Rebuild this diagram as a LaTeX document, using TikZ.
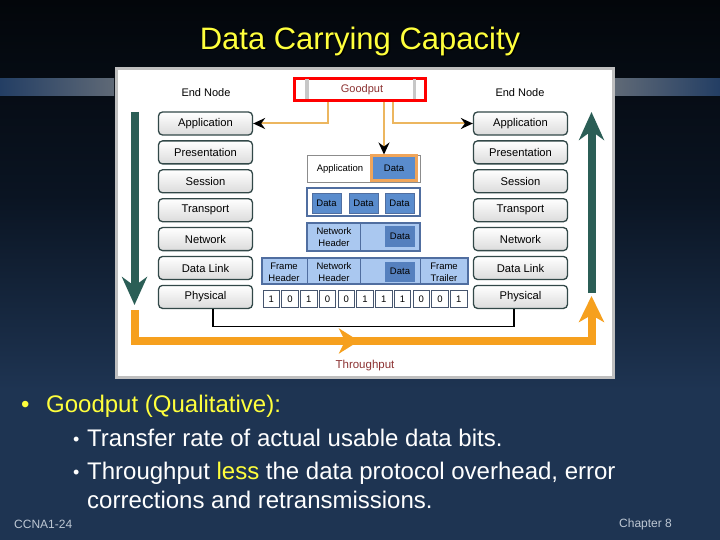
\documentclass[tikz,border=0pt]{standalone}
\usepackage{fontspec}
\setmainfont{Liberation Sans}
\usetikzlibrary{arrows.meta,calc}
\definecolor{ttl}{RGB}{255,255,60}
\definecolor{navy}{RGB}{30,52,82}
\definecolor{bgtop}{RGB}{3,6,10}
\definecolor{bgmid}{RGB}{10,20,34}
\definecolor{barblue}{RGB}{35,62,100}
\definecolor{bargrey}{RGB}{95,105,118}
\definecolor{tealc}{RGB}{43,94,86}
\definecolor{orng}{RGB}{246,160,30}
\definecolor{gline}{RGB}{236,182,95}
\definecolor{dred}{RGB}{140,50,50}
\definecolor{boxbd}{RGB}{50,72,72}
\definecolor{rowbd}{RGB}{80,110,160}
\definecolor{ltblue}{RGB}{170,200,240}
\definecolor{mdblue}{RGB}{90,140,205}
\definecolor{dkblue}{RGB}{85,128,190}
\definecolor{dorange}{RGB}{240,165,90}
\definecolor{bitbd}{RGB}{70,85,110}
\definecolor{foot}{RGB}{190,200,212}
\begin{document}
\begin{tikzpicture}[x=1pt,y=-1pt,
  layerbox/.style={draw=boxbd, line width=1.3pt, rounded corners=4pt,
    top color=white, bottom color=black!14, minimum width=94pt,
    minimum height=23pt, inner sep=0pt, font=\fontsize{11.2}{13}\selectfont},
  smalltxt/.style={font=\fontsize{9.5}{11}\selectfont, inner sep=0pt, align=center},
  databox/.style={fill=mdblue, draw=rowbd, line width=0.6pt, inner sep=0pt,
    font=\fontsize{9.5}{11}\selectfont},
  rowbox/.style={draw=rowbd, line width=1.4pt, inner sep=0pt},
  bitcell/.style={draw=bitbd, line width=0.8pt, fill=white, minimum width=16.5pt,
    minimum height=17pt, inner sep=0pt, font=\fontsize{9.5}{11}\selectfont},
  fatarrow/.style={line width=8pt, line join=miter},
  thinarrow/.style={gline, line width=2pt, -{Stealth[black,length=12pt,width=11pt,inset=4pt]}},
  bullettxt/.style={anchor=base west, inner sep=0pt, text=white, font=\fontsize{24}{28}\selectfont}
]
\useasboundingbox (0,0) rectangle (720,540);
% background
\fill[navy] (0,0) rectangle (720,540);
\shade[top color=bgtop, bottom color=navy, middle color=bgmid] (0,0) rectangle (720,390);
\shade[left color=barblue, right color=bargrey] (0,79) rectangle (114,96);
\shade[left color=bargrey, right color=barblue] (615,79) rectangle (720,96);
% title
\node[text=black, font=\fontsize{31}{36}\selectfont, inner sep=0pt] at (361.5,42.5) {Data Carrying Capacity};
\node[text=ttl, font=\fontsize{31}{36}\selectfont, inner sep=0pt] (title) at (360,41) {Data Carrying Capacity};
% panel
\draw[draw=black!25, line width=3pt, fill=white] (116.5,68.5) rectangle (613.5,377.5);
% end node labels
\node[font=\fontsize{11}{13}\selectfont] (enl) at (206,93) {End Node};
\node[font=\fontsize{11}{13}\selectfont] (enr) at (520,93) {End Node};
% goodput box
\node[draw=red, line width=3pt, fill=white, minimum width=131pt, minimum height=22pt, inner sep=0pt] (gp) at (360,89.5) {};
\fill[black!22] (305,79.5) rectangle (308.5,99.5);
\fill[black!22] (412.5,79.5) rectangle (416,99.5);
\node[text=dred, font=\fontsize{11}{13}\selectfont] (gpt) at (362,90) {Goodput};
% stacks
\foreach \nm/\lbl [count=\i from 0] in {A/Application,P/Presentation,S/Session,T/Transport,N/Network,D/Data Link,Ph/Physical}{
  \node[layerbox] (l\nm) at (205.5,{123.5+28.9*\i}) {\lbl};
  \node[layerbox] (r\nm) at (520.5,{123.5+28.9*\i}) {\lbl};
}
% middle stack row 1
\node[rowbox, draw=black!45, line width=0.9pt, fill=white, minimum width=113pt, minimum height=27pt] (r1) at (363.5,168.5) {};
\node[smalltxt] (r1t) at (340,169) {Application};
\node[draw=dorange, line width=3pt, fill=mdblue, minimum width=45pt, minimum height=25pt, inner sep=0pt, font=\fontsize{9.5}{11}\selectfont] (d1) at (394,168.5) {Data};
% row 2
\node[rowbox, fill=white, minimum width=113pt, minimum height=28pt] (r2) at (363.5,202) {};
\node[databox, minimum width=29pt, minimum height=20pt] (d2a) at (326.5,203) {Data};
\node[databox, minimum width=29pt, minimum height=20pt] (d2b) at (363.5,203) {Data};
\node[databox, minimum width=29pt, minimum height=20pt] (d2c) at (399.5,203) {Data};
% row 3
\node[rowbox, fill=ltblue, minimum width=113pt, minimum height=28pt] (r3) at (363.5,237) {};
\draw[rowbd, line width=0.8pt] (360,223) -- (360,251);
\node[smalltxt] (r3h) at (334,237) {Network\\[1pt]Header};
\node[databox, fill=dkblue, draw=none, minimum width=30pt, minimum height=21pt] (d3) at (400,236.5) {Data};
% row 4
\node[rowbox, fill=ltblue, minimum width=206pt, minimum height=26pt] (r4) at (365,271) {};
\draw[rowbd, line width=0.8pt] (307,258) -- (307,284);
\draw[rowbd, line width=0.8pt] (360,258) -- (360,284);
\draw[rowbd, line width=0.8pt] (420,258) -- (420,284);
\node[smalltxt] (r4f) at (284,272) {Frame\\[1pt]Header};
\node[smalltxt] (r4n) at (334,272) {Network\\[1pt]Header};
\node[databox, fill=dkblue, draw=none, minimum width=30pt, minimum height=20pt] (d4) at (400,271.5) {Data};
\node[smalltxt] (r4t) at (444,272) {Frame\\[1pt]Trailer};
% bits
\foreach \b [count=\i from 0] in {1,0,1,0,0,1,1,1,0,0,1}{
  \node[bitcell] (bit\i) at ({262+18.73*(\i+0.5)},299) {\b};
}
% physical link
\draw[black, line width=1.6pt] ([xshift=7.5pt]lPh.south) -- ++(0,17.6) -| ([xshift=-6.5pt]rPh.south);
% goodput connectors
\draw[thinarrow] ([xshift=-32pt]gp.south) |- (lA.east);
\draw[thinarrow] ([xshift=24pt]gp.south) -- ([xshift=24pt]gp.south |- d1.north);
\draw[thinarrow] ([xshift=33pt]gp.south) |- (rA.west);
% teal arrows
\coordinate (tl1) at (134.5,112);
\coordinate (tl2) at (134.5,305);
\coordinate (tr1) at (591.5,293);
\coordinate (tr2) at (591.5,112);
\draw[tealc, fatarrow, -{Stealth[length=28pt,width=25pt,inset=9pt]}] (tl1) -- (tl2);
\draw[tealc, fatarrow, -{Stealth[length=28pt,width=25pt,inset=9pt]}] (tr1) -- (tr2);
% orange throughput arrow
\coordinate (o1) at (134.5,310);
\coordinate (o2) at (359,341);
\coordinate (o3) at (350,341);
\coordinate (o4) at (591.5,296);
\draw[orng, fatarrow, -{Stealth[length=20pt,width=25pt,inset=6pt]}] (o1) |- (o2);
\draw[orng, fatarrow, -{Stealth[length=26pt,width=25pt,inset=7pt]}] (o3) -| (o4);
\node[text=dred, font=\fontsize{11.5}{13}\selectfont] (thr) at (365,366) {Throughput};
% bullet text
\node[bullettxt, text=ttl] (bu1) at (21,412) {•};
\node[bullettxt, text=ttl] (t1) at (46,412) {Goodput (Qualitative):};
\node[bullettxt, font=\fontsize{18}{20}\selectfont] (bu2) at (73,445) {•};
\node[bullettxt] (t2) at (87,446) {Transfer rate of actual usable data bits.};
\node[bullettxt, font=\fontsize{18}{20}\selectfont] (bu3) at (73,478) {•};
\node[bullettxt] (t3) at (87,479) {Throughput {\color{ttl}less} the data protocol overhead, error};
\node[bullettxt] (t4) at (87,508) {corrections and retransmissions.};
% footer
\node[anchor=base west, inner sep=0pt, text=foot, font=\fontsize{12}{14}\selectfont] (f1) at (14,528) {CCNA1-24};
\node[anchor=base west, inner sep=0pt, text=foot, font=\fontsize{12}{14}\selectfont] (f2) at (619,527) {Chapter 8};
\end{tikzpicture}
\end{document}
